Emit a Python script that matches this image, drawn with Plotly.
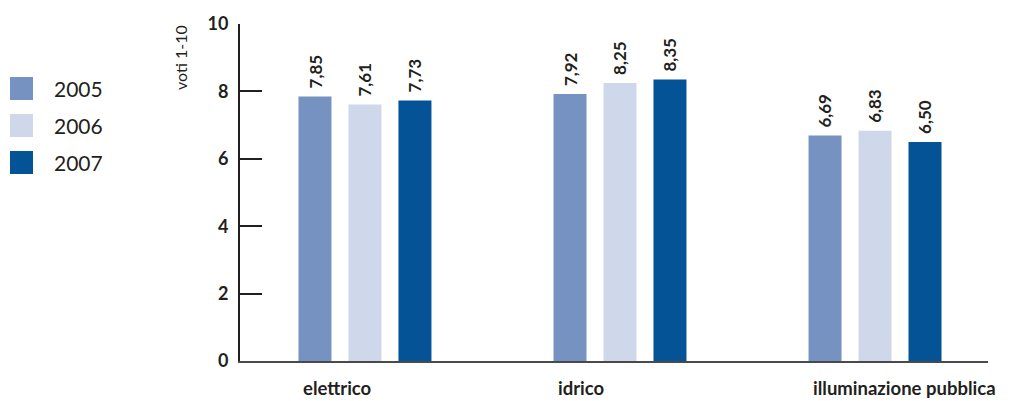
import plotly.graph_objects as go

categories = ["elettrico", "idrico", "illuminazione pubblica"]
years = ["2005", "2006", "2007"]
values_2005 = [7.85, 7.92, 6.69]
values_2006 = [7.61, 8.25, 6.83]
values_2007 = [7.73, 8.35, 6.50]
series = [values_2005, values_2006, values_2007]
colors = ["#7592c0", "#cfd8ea", "#045396"]
y_ticks = [0, 2, 4, 6, 8, 10]

W, H = 1020, 401
L, R, T, B = 240, 32, 24, 40
PW, PH = W - L - R, H - T - B
FONT = "Lato, 'Open Sans', sans-serif"
DARK = "#231f20"
BARGAP, GROUPGAP = 0.412, 0.34

def px_x(p):
    return (p - L) / PW

def px_y(p):
    return (H - B - p) / PH

fig = go.Figure()
for name, vals, col in zip(years, series, colors):
    fig.add_trace(go.Bar(
        x=list(range(len(categories))), y=vals, name=name,
        marker=dict(color=col, line=dict(width=0)),
        showlegend=False,
    ))

# value labels above bars (rotated)
slot = (1 - BARGAP) / len(series)
for s, vals in enumerate(series):
    off = (s - (len(series) - 1) / 2) * slot
    for i, v in enumerate(vals):
        fig.add_annotation(
            x=i + off, y=v, xref="x", yref="y",
            text=f"{v:.2f}".replace(".", ","), showarrow=False, textangle=-90,
            xanchor="center", yanchor="bottom", yshift=6,
            font=dict(family=FONT, size=17, color=DARK, weight="bold"),
        )

fig.update_layout(
    width=W, height=H,
    margin=dict(l=L, r=R, t=T, b=B),
    paper_bgcolor="white", plot_bgcolor="white",
    barmode="group", bargap=BARGAP, bargroupgap=GROUPGAP,
    font=dict(family=FONT, color=DARK),
)
fig.update_xaxes(
    range=[-0.49, 2.443], showticklabels=False, showgrid=False, zeroline=False,
    showline=True, linecolor="#4a4a4a", linewidth=2, ticks="",
)
fig.update_yaxes(
    range=[0, 10], tickvals=y_ticks, ticktext=[str(t) for t in y_ticks],
    showgrid=False, zeroline=False, showline=True, linecolor=DARK, linewidth=2,
    ticks="inside", ticklen=22, tickwidth=2, tickcolor=DARK,
    tickfont=dict(family=FONT, size=18, color=DARK, weight="bold"),
    ticklabelstandoff=6,
)

# category labels, left aligned at group start
for i, c in enumerate(categories):
    fig.add_annotation(
        x=i, y=px_y(388), xref="x", yref="paper", text=c, showarrow=False,
        xanchor="left", yanchor="middle", xshift=-64,
        font=dict(family=FONT, size=18.5, color=DARK, weight="bold"),
    )

# y axis title
fig.add_annotation(
    x=px_x(180), y=px_y(58), xref="paper", yref="paper", text="voti 1-10",
    showarrow=False, textangle=-90, xanchor="center", yanchor="middle",
    font=dict(family=FONT, size=16, color=DARK),
)

# manual legend
for k, (name, col) in enumerate(zip(years, colors)):
    top = 77 + k * 37
    fig.add_shape(type="rect", xref="paper", yref="paper",
                  x0=px_x(10), x1=px_x(33), y0=px_y(top + 23), y1=px_y(top),
                  fillcolor=col, line=dict(width=0))
    fig.add_annotation(x=px_x(52), y=px_y(top + 11.5), xref="paper", yref="paper",
                       text=name, showarrow=False, xanchor="left", yanchor="middle",
                       font=dict(family=FONT, size=21, color=DARK))

fig.write_html("out.html")
